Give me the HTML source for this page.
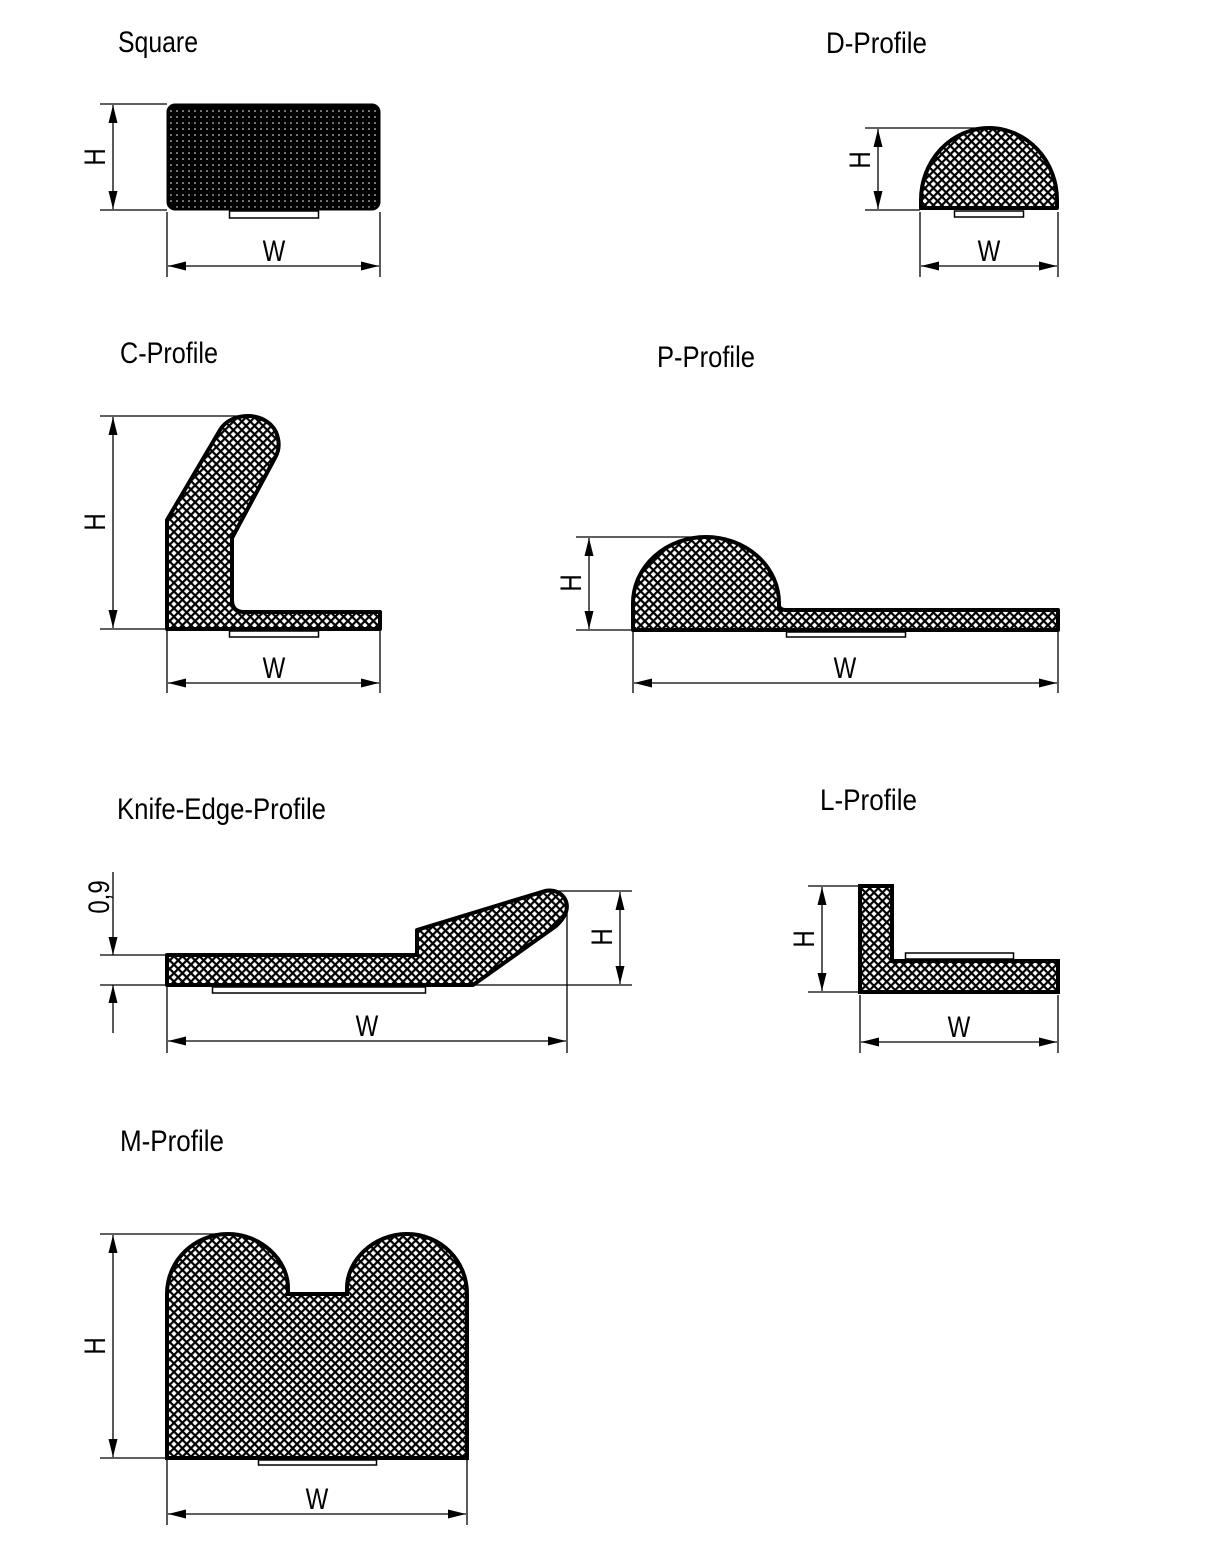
<!DOCTYPE html>
<html><head><meta charset="utf-8"><style>html,body{margin:0;padding:0;background:#fff}svg{display:block}</style></head>
<body>
<svg width="1229" height="1558" viewBox="0 0 1229 1558" xmlns="http://www.w3.org/2000/svg" font-family="'Liberation Sans Narrow','Liberation Sans',sans-serif">
<defs>
<pattern id="hx" width="6" height="6" patternUnits="userSpaceOnUse" patternTransform="rotate(45)">
<rect width="6" height="6" fill="#fff"/>
<rect x="0" y="0" width="6" height="2.2" fill="#000"/>
<rect x="0" y="0" width="2.2" height="6" fill="#000"/>
</pattern>
<pattern id="dots" width="6" height="6" patternUnits="userSpaceOnUse">
<rect width="6" height="6" fill="#000"/>
<circle cx="3" cy="3" r="0.8" fill="#fff"/>
</pattern>
<marker id="a" markerWidth="20" markerHeight="10" refX="18" refY="4.5" orient="auto-start-reverse" markerUnits="userSpaceOnUse">
<path d="M0,0 L18,4.5 L0,9 Z" fill="#000"/>
</marker>
</defs>
<g font-size="30" fill="#000">
<text x="118" y="52" textLength="80" lengthAdjust="spacingAndGlyphs">Square</text>
<text x="826" y="53" textLength="101" lengthAdjust="spacingAndGlyphs">D-Profile</text>
<text x="120" y="363" textLength="98" lengthAdjust="spacingAndGlyphs">C-Profile</text>
<text x="657" y="367" textLength="98" lengthAdjust="spacingAndGlyphs">P-Profile</text>
<text x="117" y="819" textLength="209" lengthAdjust="spacingAndGlyphs">Knife-Edge-Profile</text>
<text x="820" y="810" textLength="97" lengthAdjust="spacingAndGlyphs">L-Profile</text>
<text x="120" y="1151" textLength="104" lengthAdjust="spacingAndGlyphs">M-Profile</text>
</g>
<g font-size="30" text-anchor="middle">
<text transform="translate(274,261) scale(0.8,1)">W</text>
<text transform="translate(989,261) scale(0.8,1)">W</text>
<text transform="translate(274,678) scale(0.8,1)">W</text>
<text transform="translate(845,678) scale(0.8,1)">W</text>
<text transform="translate(367,1036) scale(0.8,1)">W</text>
<text transform="translate(959,1037) scale(0.8,1)">W</text>
<text transform="translate(317,1509) scale(0.8,1)">W</text>
<text transform="translate(105,157) rotate(-90) scale(0.8,1)">H</text>
<text transform="translate(870,160) rotate(-90) scale(0.8,1)">H</text>
<text transform="translate(105,522) rotate(-90) scale(0.8,1)">H</text>
<text transform="translate(581,583) rotate(-90) scale(0.8,1)">H</text>
<text transform="translate(612,937) rotate(-90) scale(0.8,1)">H</text>
<text transform="translate(814,939) rotate(-90) scale(0.8,1)">H</text>
<text transform="translate(105,1346) rotate(-90) scale(0.8,1)">H</text>
<text transform="translate(109,897) rotate(-90) scale(0.8,1)">0,9</text>
</g>
<g stroke="#000" stroke-linejoin="round">
<rect x="168" y="105" width="211" height="104" rx="7" fill="url(#dots)" stroke-width="3"/>
<path d="M921,208 L921,200 A68,72 0 0 1 1057,200 L1057,208 Z" fill="url(#hx)" stroke-width="4"/>
<path d="M167,629 L167,520 L220,430 C230,412 265,410 276,432 C280,442 279,450 276,456 L232,538 L232,600 Q232,612 244,612 L380,612 L380,629 Z" fill="url(#hx)" stroke-width="4"/>
<path d="M633,630 L633,603 A73,66 0 0 1 779,603 L779,606 Q780,610 786,610 L1058,610 L1058,630 Z" fill="url(#hx)" stroke-width="4"/>
<path d="M167,955 L417,955 L417,930 L545,891 C560,888 570,900 566,912 C564,918 560,922 556,926 L473,985 L167,985 Z" fill="url(#hx)" stroke-width="4"/>
<path d="M860,886 L892,886 L892,961 L1058,961 L1058,992 L860,992 Z" fill="url(#hx)" stroke-width="4" stroke-linejoin="miter"/>
<path d="M167,1458 L167,1294 C167,1260 195,1234 228,1234 C261,1234 288,1260 288,1288 L288,1294 L347,1294 L347,1288 C347,1260 374,1234 407,1234 C440,1234 467,1260 467,1294 L467,1458 Z" fill="url(#hx)" stroke-width="4" stroke-linejoin="miter"/>
</g>
<g fill="#fff" stroke="#000" stroke-width="1.5">
<rect x="229.5" y="211" width="89" height="7"/>
<rect x="954.5" y="211" width="69" height="6"/>
<rect x="229.5" y="631" width="89" height="6"/>
<rect x="786.5" y="632" width="119" height="5"/>
<rect x="212.5" y="987" width="213" height="6"/>
<rect x="905.5" y="953" width="108" height="6"/>
<rect x="258.5" y="1460" width="118" height="5"/>
</g>
<g stroke="#000" stroke-width="1.3" fill="none">
<path d="M100,104H167M100,210H167M167,212V277M380,212V277M920,212V277M1058,212V277M865,128H1000M865,210H920
M100,416H247M100,629H165M167,631V693M380,631V693M576,537H706M576,630H633M633,632V693M1058,632V693
M100,955H167M100,985H167M545,891H632M473,985H632M567,912V1053M167,987V1053
M808,886H858M808,992H858M860,995V1053M1058,995V1053
M100,1234H228M100,1458H167M167,1460V1525M467,1460V1525"/>
<line x1="113" y1="105" x2="113" y2="209" marker-start="url(#a)" marker-end="url(#a)"/>
<line x1="168" y1="266" x2="379" y2="266" marker-start="url(#a)" marker-end="url(#a)"/>
<line x1="878" y1="129" x2="878" y2="209" marker-start="url(#a)" marker-end="url(#a)"/>
<line x1="921" y1="266" x2="1057" y2="266" marker-start="url(#a)" marker-end="url(#a)"/>
<line x1="113" y1="417" x2="113" y2="628" marker-start="url(#a)" marker-end="url(#a)"/>
<line x1="168" y1="683" x2="379" y2="683" marker-start="url(#a)" marker-end="url(#a)"/>
<line x1="589" y1="538" x2="589" y2="629" marker-start="url(#a)" marker-end="url(#a)"/>
<line x1="634" y1="683" x2="1057" y2="683" marker-start="url(#a)" marker-end="url(#a)"/>
<line x1="620" y1="892" x2="620" y2="984" marker-start="url(#a)" marker-end="url(#a)"/>
<line x1="113" y1="872" x2="113" y2="955" marker-end="url(#a)"/>
<line x1="113" y1="1033" x2="113" y2="985" marker-end="url(#a)"/>
<line x1="168" y1="1041" x2="566" y2="1041" marker-start="url(#a)" marker-end="url(#a)"/>
<line x1="822" y1="887" x2="822" y2="991" marker-start="url(#a)" marker-end="url(#a)"/>
<line x1="861" y1="1042" x2="1057" y2="1042" marker-start="url(#a)" marker-end="url(#a)"/>
<line x1="113" y1="1235" x2="113" y2="1457" marker-start="url(#a)" marker-end="url(#a)"/>
<line x1="168" y1="1514" x2="466" y2="1514" marker-start="url(#a)" marker-end="url(#a)"/>
</g>
</svg>
</body></html>
